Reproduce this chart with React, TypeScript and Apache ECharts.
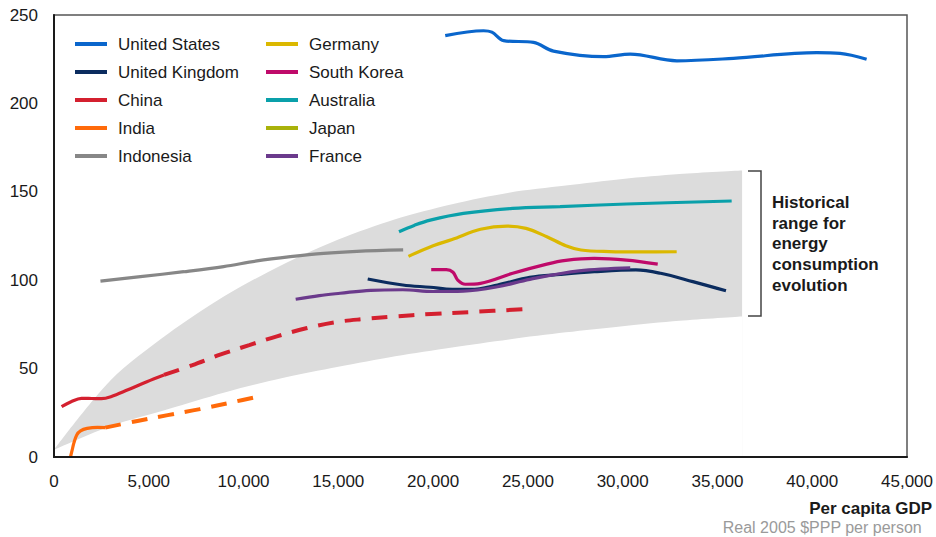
import React, { useEffect, useRef } from "react";
import * as echarts from "echarts";

const FONT = "'Liberation Sans', Arial, sans-serif";

// Historical range band (x: per-capita GDP, y: energy consumption)
const BAND_X = [0, 3000, 6000, 9000, 12000, 15000, 18000, 21000, 24000, 27000, 30000, 33000, 36300];
const BAND_UPPER = [4, 43.5, 69.5, 91, 108.5, 123, 134.5, 143, 149.5, 153.5, 157.2, 160, 162];
const BAND_LOWER = [4, 17.5, 27, 36.5, 44.5, 51, 57, 62, 66.5, 70.5, 74, 77, 79.4];

const US = [[20640, 238.3], [22660, 241.1], [23100, 240.3], [23720, 235.5], [25300, 234.5], [26350, 229.6], [28990, 226.4], [30400, 227.9], [32860, 224.1], [35840, 225.5], [40240, 228.7], [41470, 228.3], [42870, 225]];
const UK = [[16550, 100.7], [18400, 97.3], [19850, 96], [21000, 94.8], [22000, 94.8], [23400, 97.3], [25100, 101.6], [26700, 103.3], [28500, 104.8], [30700, 105.8], [32000, 103.9], [33700, 99.2], [35450, 94]];
const CHINA_HIST = [[400, 28.5], [900, 31.3], [1450, 33.2], [2000, 33.1], [2500, 33], [3000, 34.1], [3900, 38], [4900, 42.6], [5800, 46.4]];
const CHINA_PROJ = [[5800, 46.4], [7300, 52], [8800, 58], [10300, 63.3], [11800, 68.4], [13300, 72.8], [14800, 76.2], [16300, 78], [17900, 79.4], [19900, 80.9], [22000, 82], [25000, 83.7]];
const INDIA_HIST = [[870, 0], [960, 4], [1050, 8], [1200, 12.5], [1400, 14.8], [1750, 16.2], [2300, 16.8], [2700, 16.6]];
const INDIA_PROJ = [[2700, 16.6], [4400, 20.4], [6000, 23.7], [7700, 27.1], [9500, 31.2], [10500, 33.5]];
const INDONESIA = [[2450, 99.5], [4560, 102], [6850, 104.8], [8950, 107.7], [10700, 110.9], [12470, 113.3], [14230, 115.2], [15980, 116.3], [18420, 117.1]];
const GERMANY = [[18700, 113.5], [20000, 119.5], [21000, 123], [22500, 128.8], [23900, 130.6], [24900, 129.3], [26000, 124.6], [27000, 119.5], [27800, 117.1], [29300, 116.2], [31000, 116], [32850, 116.1]];
const SOUTH_KOREA = [[19900, 106], [20700, 106], [21050, 104.5], [21300, 100], [21700, 97.7], [22500, 98.2], [24200, 103.9], [26000, 109.1], [27000, 111.2], [28500, 112.3], [30200, 111.4], [31850, 109.1]];
const AUSTRALIA = [[18200, 127.4], [19000, 131], [19850, 134], [21600, 137.8], [24200, 140.6], [26700, 141.6], [30200, 143.1], [35750, 144.8]];
const JAPAN: number[][] = [];
const FRANCE = [[12750, 89.2], [14000, 91.3], [15100, 92.6], [16700, 94.3], [18400, 94.6], [20000, 93.6], [21600, 93.8], [23400, 96.3], [25100, 100.5], [27700, 105.3], [30400, 107]];

const LEGEND_COL1 = ["United States", "United Kingdom", "China", "India", "Indonesia"];
const LEGEND_COL2 = ["Germany", "South Korea", "Australia", "Japan", "France"];

const COLORS: Record<string, string> = {
  "United States": "#0a66cc",
  "United Kingdom": "#0b2c5f",
  China: "#d4202f",
  India: "#ff6a0a",
  Indonesia: "#878787",
  Germany: "#dbb800",
  "South Korea": "#bf0a6a",
  Australia: "#0aa0aa",
  Japan: "#a9b20a",
  France: "#6b3a8c",
};

const ANNOTATION = "Historical\nrange for\nenergy\nconsumption\nevolution";
const X_TITLE = "Per capita GDP";
const X_SUBTITLE = "Real 2005 $PPP per person";

export default function App() {
  const ref = useRef<HTMLDivElement>(null);

  useEffect(() => {
    document.body.style.margin = "0";
    if (!ref.current) return;
    const chart = echarts.init(ref.current, undefined, { renderer: "svg" });

    const line = (name: string, data: number[][], dashed = false) => ({
      type: "line",
      name,
      data,
      smooth: 0.35,
      showSymbol: false,
      symbol: "none",
      silent: true,
      z: 3,
      lineStyle: {
        color: COLORS[name],
        width: dashed ? 4 : 3.2,
        type: dashed ? [16, 11] : "solid",
        cap: "butt",
      },
      itemStyle: { color: COLORS[name] },
    });

    const legendBase = {
      orient: "vertical",
      top: 35,
      padding: 0,
      itemWidth: 32,
      itemHeight: 4,
      itemGap: 10,
      icon: "rect",
      selectedMode: false,
      textStyle: {
        fontFamily: FONT,
        fontSize: 17,
        color: "#1a1a1a",
        lineHeight: 18,
        padding: [0, 0, 0, 6],
      },
    };

    const bandSeries = (name: string, ys: number[], fill: string) => ({
      type: "line",
      name,
      data: BAND_X.map((x, i) => [x, ys[i]]),
      smooth: 0.3,
      symbol: "none",
      silent: true,
      z: 1,
      lineStyle: { width: 0, opacity: 0 },
      areaStyle: { color: fill, opacity: 1, origin: "start" },
    });

    chart.setOption({
      animation: false,
      textStyle: { fontFamily: FONT },
      grid: {
        left: 54,
        right: 29,
        top: 15,
        bottom: 80,
        show: true,
        borderColor: "#555",
        borderWidth: 1.5,
      },
      legend: [
        { ...legendBase, left: 75, data: LEGEND_COL1 },
        { ...legendBase, left: 266, data: LEGEND_COL2 },
      ],
      xAxis: {
        type: "value",
        min: 0,
        max: 45000,
        interval: 5000,
        z: 10,
        axisLine: { show: true, onZero: false, lineStyle: { color: "#1a1a1a", width: 2 } },
        axisTick: { show: false },
        splitLine: { show: false },
        axisLabel: {
          fontFamily: FONT,
          fontSize: 17,
          color: "#1a1a1a",
          margin: 16,
          formatter: (v: number) => v.toLocaleString("en-US"),
        },
      },
      yAxis: {
        type: "value",
        min: 0,
        max: 250,
        interval: 50,
        z: 10,
        axisLine: { show: true, onZero: false, lineStyle: { color: "#1a1a1a", width: 2 } },
        axisTick: { show: false },
        splitLine: { show: false },
        axisLabel: { fontFamily: FONT, fontSize: 17, color: "#1a1a1a", margin: 16 },
      },
      series: [
        bandSeries("bandUpper", BAND_UPPER, "#dcdcdc"),
        bandSeries("bandLower", BAND_LOWER, "#ffffff"),
        line("United States", US),
        line("United Kingdom", UK),
        line("China", CHINA_HIST),
        line("China", CHINA_PROJ, true),
        line("India", INDIA_HIST),
        line("India", INDIA_PROJ, true),
        line("Indonesia", INDONESIA),
        line("Germany", GERMANY),
        line("South Korea", SOUTH_KOREA),
        line("Australia", AUSTRALIA),
        line("Japan", JAPAN),
        line("France", FRANCE),
      ],
      graphic: [
        {
          type: "polyline",
          shape: { points: [[748, 171], [761, 171], [761, 316], [748, 316]] },
          style: { stroke: "#444", lineWidth: 1.5, fill: "none" },
          silent: true,
        },
        {
          type: "text",
          left: 772,
          top: 192,
          style: {
            text: ANNOTATION,
            fontFamily: FONT,
            fontSize: 17,
            fontWeight: "bold",
            fill: "#1a1a1a",
            lineHeight: 20.7,
          },
          silent: true,
        },
        {
          type: "text",
          right: 4,
          top: 500,
          style: {
            text: X_TITLE,
            fontFamily: FONT,
            fontSize: 17,
            fontWeight: "bold",
            fill: "#1a1a1a",
          },
          silent: true,
        },
        {
          type: "text",
          right: 14,
          top: 519,
          style: {
            text: X_SUBTITLE,
            fontFamily: FONT,
            fontSize: 16,
            fill: "#9a9a9a",
          },
          silent: true,
        },
      ],
    });

    return () => chart.dispose();
  }, []);

  return <div ref={ref} style={{ width: 936, height: 537 }} />;
}
